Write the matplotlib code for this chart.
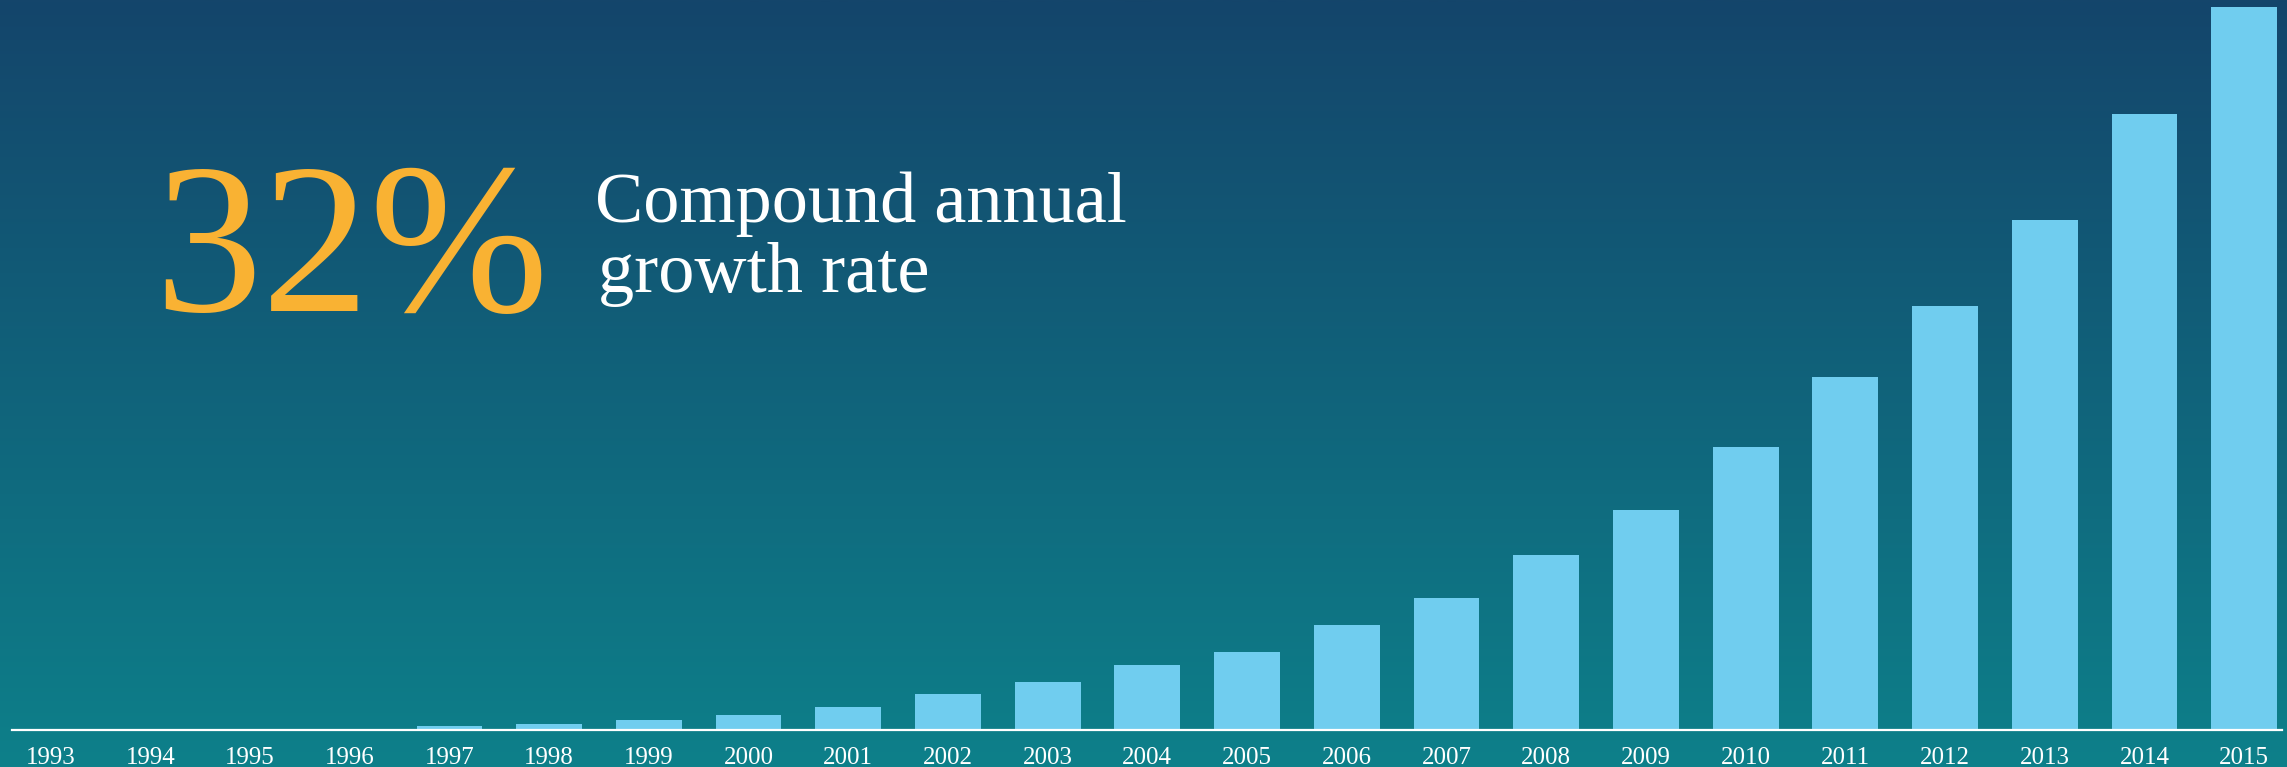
import numpy as np
import matplotlib.pyplot as plt
from matplotlib.colors import LinearSegmentedColormap

# Data (relative units, 2015 = 100)
years = [str(y) for y in range(1993, 2016)]
values = [0, 0, 0, 0, 0.4, 0.7, 1.2, 1.9, 3.0, 4.8, 6.5, 8.9, 10.7, 14.4,
          18.1, 24.1, 30.3, 39.1, 48.8, 58.6, 70.5, 85.2, 100]
headline = "32%"
caption = ["Compound annual", "growth rate"]

bar_color = "#70CDEF"
accent = "#F9B233"
top_color = "#14456B"
bottom_color = "#0D808A"

W, H = 2287, 767
fig = plt.figure(figsize=(W / 100, H / 100), dpi=100)
ax = fig.add_axes([0, 0, 1, 1])

x = np.arange(len(years))
ax.set_xlim(-0.5075, 22.43)
ax.set_ylim(-5.26, 100.97)

# background gradient
grad = np.linspace(0, 1, 256).reshape(-1, 1)
cmap = LinearSegmentedColormap.from_list("bg", [bottom_color, top_color])
ax.imshow(grad, cmap=cmap, aspect="auto", origin="lower",
          extent=(-0.5075, 22.43, -5.26, 100.97), zorder=0)

ax.bar(x, values, width=0.66, color=bar_color, zorder=2)
ax.axhline(-0.15, xmin=12 / W, xmax=0.998, color="white", lw=1.6, zorder=3)

for xi, lab in zip(x, years):
    ax.text(xi, 0.004, lab, transform=ax.get_xaxis_transform(),
            ha="center", va="baseline", color="white",
            family="Liberation Serif", fontsize=18)

ax.axis("off")

fig.text(154 / W, 1 - 311 / H, headline, color=accent,
         family="Liberation Serif", fontsize=155, va="baseline", ha="left")
fig.text(595 / W, 1 - 222 / H, caption[0], color="white",
         family="Liberation Serif", fontsize=52, va="baseline", ha="left")
fig.text(598 / W, 1 - 292 / H, caption[1], color="white",
         family="Liberation Serif", fontsize=52, va="baseline", ha="left")

fig.savefig("out.png", dpi=100)
